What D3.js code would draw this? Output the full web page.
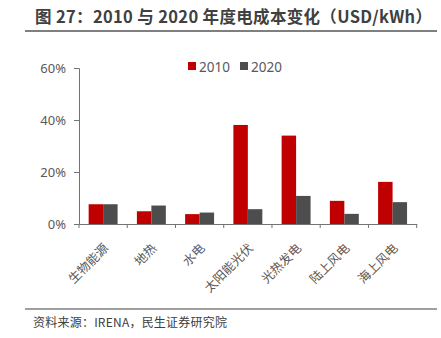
<!DOCTYPE html>
<html>
<head>
<meta charset="utf-8">
<script src="https://cdn.jsdelivr.net/npm/d3@7"></script>
<style>
  html, body { margin: 0; padding: 0; background: #fff; }
  svg { display: block; font-family: "Noto Sans CJK SC", "Noto Sans", sans-serif; }
</style>
</head>
<body>
<svg id="chart" width="441" height="338"></svg>
<script>
// 各能源类型平准化度电成本
const categories = ['生物能源', '地热', '水电', '太阳能光伏', '光热发电', '陆上风电', '海上风电'];
const seriesNames = ['2010', '2020'];
const values2010 = [0.076, 0.049, 0.038, 0.381, 0.340, 0.089, 0.162];
const values2020 = [0.076, 0.071, 0.044, 0.057, 0.108, 0.039, 0.084];
const yTicks = [0, 0.2, 0.4, 0.6];
const colors = ['#c00000', '#4d4d4d'];

const titleText = '图 27：2010 与 2020 年度电成本变化（USD/kWh）';
const sourceText = '资料来源：IRENA，民生证券研究院';

const svg = d3.select('#chart');
const margin = {t: 68, r: 24.3, b: 114, l: 79};
const width = 441, height = 338;

const axisColor = '#737373';
const textColor = '#595959';

// title + rules
svg.append('text')
    .attr('x', 35).attr('y', 23)
    .attr('font-size', 16.5).attr('font-weight', 'bold')
    .attr('fill', '#404040')
    .attr('textLength', 397).attr('lengthAdjust', 'spacing')
    .text(titleText);

svg.append('line')
    .attr('x1', 25).attr('x2', 437).attr('y1', 31).attr('y2', 31)
    .attr('stroke', '#7f7f7f').attr('stroke-width', 2);

svg.append('line')
    .attr('x1', 25).attr('x2', 437).attr('y1', 309).attr('y2', 309)
    .attr('stroke', '#7f7f7f').attr('stroke-width', 1.5);

svg.append('text')
    .attr('x', 33).attr('y', 327)
    .attr('font-size', 12).attr('fill', '#404040')
    .attr('textLength', 194).attr('lengthAdjust', 'spacing')
    .text(sourceText);

// scales
const x0 = d3.scaleBand()
    .domain(categories)
    .range([margin.l, width - margin.r])
    .paddingInner(0.4)
    .paddingOuter(0.2);

const x1 = d3.scaleBand()
    .domain(seriesNames)
    .range([0, x0.bandwidth()]);

const y = d3.scaleLinear()
    .domain([0, 0.6])
    .range([height - margin.b, margin.t]);

const data = categories.map((c, i) => ({
    cat: c,
    vals: [
        {key: seriesNames[0], v: values2010[i]},
        {key: seriesNames[1], v: values2020[i]}
    ]
}));

// bars
const color = d3.scaleOrdinal().domain(seriesNames).range(colors);

svg.append('g')
    .selectAll('g')
    .data(data)
    .join('g')
    .attr('transform', d => `translate(${x0(d.cat)},0)`)
    .selectAll('rect')
    .data(d => d.vals)
    .join('rect')
    .attr('x', d => x1(d.key))
    .attr('y', d => y(d.v))
    .attr('width', x1.bandwidth())
    .attr('height', d => y(0) - y(d.v))
    .attr('fill', d => color(d.key));

// y axis
const yAxis = svg.append('g')
    .attr('transform', `translate(${margin.l},0)`)
    .call(d3.axisLeft(y).tickValues(yTicks).tickFormat(d3.format('.0%')).tickSize(5).tickPadding(8));

yAxis.select('.domain').attr('stroke', axisColor);
yAxis.selectAll('.tick line').attr('stroke', axisColor);
yAxis.selectAll('.tick text')
    .attr('fill', textColor)
    .attr('font-size', 13)
    .attr('font-family', '"Noto Sans", sans-serif');

// x axis: line with ticks at category boundaries
const xAxis = svg.append('g')
    .attr('transform', `translate(0,${y(0)})`)
    .call(d3.axisBottom(x0).tickSize(0).tickFormat(''));

xAxis.select('.domain').attr('stroke', axisColor);

const step = x0.step();
const bounds = d3.range(categories.length + 1).map(i => margin.l + i * step);

xAxis.selectAll('.bound')
    .data(bounds)
    .join('line')
    .attr('class', 'bound')
    .attr('x1', d => d).attr('x2', d => d)
    .attr('y1', 0).attr('y2', 4)
    .attr('stroke', axisColor);

// rotated category labels
svg.append('g')
    .selectAll('text')
    .data(categories)
    .join('text')
    .attr('transform', d => `translate(${x0(d) + x0.bandwidth() / 2 + 6},${y(0) + 25}) rotate(-45)`)
    .attr('text-anchor', 'end')
    .attr('font-size', 12.5)
    .attr('fill', textColor)
    .text(d => d);

// legend
const legend = svg.append('g')
    .selectAll('g')
    .data(seriesNames)
    .join('g')
    .attr('transform', (d, i) => `translate(${188 + i * 52},62)`);

legend.append('rect')
    .attr('width', 8).attr('height', 8)
    .attr('fill', d => color(d));

legend.append('text')
    .attr('x', 11).attr('y', 9.5)
    .attr('font-size', 13.5)
    .attr('font-family', '"Noto Sans", sans-serif')
    .attr('fill', textColor)
    .text(d => d);
</script>
</body>
</html>
